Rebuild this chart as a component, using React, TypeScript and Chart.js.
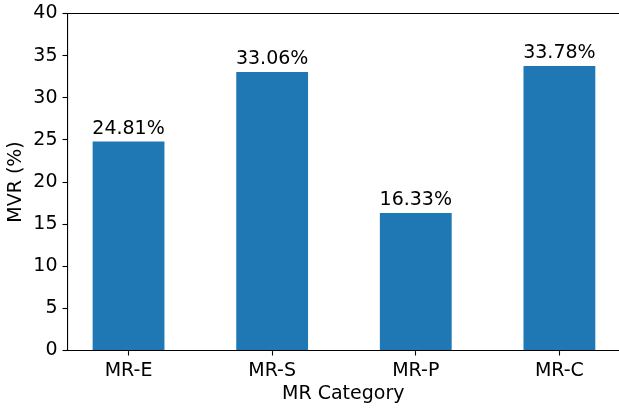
import React, { useEffect, useRef } from "react";
import { Chart, registerables } from "chart.js";

Chart.register(...registerables);

const categories = ["MR-E", "MR-S", "MR-P", "MR-C"];
const mvrValues = [24.81, 33.06, 16.33, 33.78];
const yTicks = [0, 5, 10, 15, 20, 25, 30, 35, 40];

const FONT = "'DejaVu Sans', sans-serif";

const valueLabels = {
  id: "valueLabels",
  afterDatasetsDraw(chart: any) {
    const ctx = chart.ctx;
    const meta = chart.getDatasetMeta(0);
    ctx.save();
    ctx.font = `19px ${FONT}`;
    ctx.fillStyle = "#000";
    ctx.textAlign = "center";
    ctx.textBaseline = "alphabetic";
    meta.data.forEach((bar: any, i: number) => {
      ctx.fillText(mvrValues[i].toFixed(2) + "%", bar.x, bar.y - 7.5);
    });
    ctx.restore();
  },
};

const topSpine = {
  id: "topSpine",
  afterDraw(chart: any) {
    const { ctx, chartArea } = chart;
    ctx.save();
    ctx.strokeStyle = "#000";
    ctx.lineWidth = 1.1;
    ctx.beginPath();
    ctx.moveTo(chartArea.left, chartArea.top);
    ctx.lineTo(chartArea.right, chartArea.top);
    ctx.stroke();
    ctx.restore();
  },
};

export default function App() {
  const ref = useRef<HTMLCanvasElement | null>(null);
  useEffect(() => {
    if (!ref.current) return;
    const chart = new Chart(ref.current, {
      type: "bar",
      data: {
        datasets: [
          {
            data: mvrValues.map((v, i) => ({ x: i, y: v })) as any,
            backgroundColor: "#1f77b4",
            borderWidth: 0,
            barPercentage: 0.5,
            categoryPercentage: 1,
          },
        ],
      },
      plugins: [valueLabels, topSpine],
      options: {
        responsive: false,
        animation: false,
        devicePixelRatio: 1,
        layout: { autoPadding: false, padding: { top: 13.5, right: 0, left: 0, bottom: 0 } },
        plugins: { legend: { display: false }, tooltip: { enabled: false } },
        scales: {
          x: {
            type: "linear",
            offset: false,
            min: -0.425,
            max: 3.415,
            afterFit: (s: any) => {
              s.height = 57.5;
              s.paddingLeft = 0;
              s.paddingRight = 0;
            },
            afterBuildTicks: (s: any) => {
              s.ticks = categories.map((_, i) => ({ value: i }));
            },
            grid: {
              offset: false,
              drawOnChartArea: false,
              drawTicks: true,
              tickLength: 5,
              color: "#000",
              tickWidth: 1.1,
            },
            border: { display: true, color: "#000", width: 1.1 },
            ticks: {
              autoSkip: false,
              maxRotation: 0,
              padding: 4,
              color: "#000",
              font: { family: FONT, size: 19 },
              callback: (v: any) => categories[Math.round(v)] ?? "",
            },
            title: {
              display: true,
              text: "MR Category",
              color: "#000",
              font: { family: FONT, size: 19 },
              padding: { top: 0, bottom: 3 },
            },
          },
          y: {
            min: 0,
            max: 40,
            afterFit: (s: any) => {
              s.width = 67.5;
              s.paddingTop = 0;
              s.paddingBottom = 0;
            },
            afterBuildTicks: (s: any) => {
              s.ticks = yTicks.map((v) => ({ value: v }));
            },
            grid: {
              drawOnChartArea: false,
              drawTicks: true,
              tickLength: 5,
              color: "#000",
              tickWidth: 1.1,
            },
            border: { display: true, color: "#000", width: 1.1 },
            ticks: {
              padding: 5,
              color: "#000",
              font: { family: FONT, size: 19 },
            },
            title: {
              display: true,
              text: "MVR (%)",
              color: "#000",
              font: { family: FONT, size: 19 },
              padding: { top: 5, bottom: 0 },
            },
          },
        },
      },
    });
    return () => chart.destroy();
  }, []);
  return (
    <div style={{ position: "fixed", left: 0, top: 0, width: 619, height: 408, background: "#fff" }}>
      <canvas ref={ref} width={619} height={408} />
    </div>
  );
}
